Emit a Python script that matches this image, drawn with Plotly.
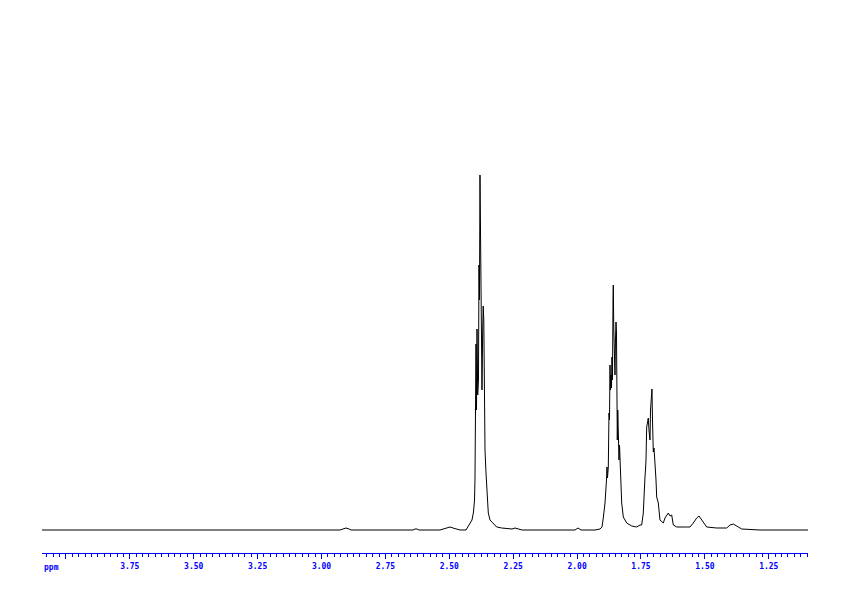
import plotly.graph_objects as go

# Chemical shift (ppm) and intensity (arbitrary units, baseline = 0)
ppm = [
    4.0935, 2.9276, 2.9159, 2.9042, 2.8924, 2.8846,
    2.6420, 2.6342, 2.6264, 2.6186,
    2.5364, 2.5207, 2.5090, 2.4973, 2.4855, 2.4738, 2.4581,
    2.4347, 2.4268, 2.4190, 2.4112, 2.4053, 2.4014, 2.3995, 2.3975,
    2.3955, 2.3936, 2.3916, 2.3889, 2.3858, 2.3838, 2.3819, 2.3799,
    2.3779, 2.3760, 2.3740, 2.3721, 2.3693, 2.3674, 2.3650, 2.3631,
    2.3603, 2.3564, 2.3525, 2.3474, 2.3408, 2.3341, 2.3251, 2.3146,
    2.2950, 2.2704, 2.2547, 2.2430, 2.2312, 2.2156,
    2.0082, 1.9965, 1.9847,
    1.9300, 1.9104, 1.9026, 1.8975, 1.8908, 1.8850, 1.8830, 1.8811,
    1.8779, 1.8752, 1.8732, 1.8713, 1.8693, 1.8674, 1.8654, 1.8635,
    1.8615, 1.8595, 1.8584, 1.8564, 1.8545, 1.8517, 1.8498, 1.8478,
    1.8459, 1.8439, 1.8427, 1.8408, 1.8388, 1.8361, 1.8341, 1.8322,
    1.8294, 1.8255, 1.8192, 1.8059, 1.7864, 1.7668, 1.7539,
    1.7473, 1.7410, 1.7383, 1.7344, 1.7324, 1.7304, 1.7277, 1.7246,
    1.7214, 1.7187, 1.7148, 1.7128, 1.7097, 1.7070, 1.7050, 1.7019,
    1.6991, 1.6952, 1.6913, 1.6886, 1.6854, 1.6823, 1.6757, 1.6628,
    1.6561, 1.6495, 1.6432, 1.6365, 1.6299, 1.6236, 1.6103,
    1.5712, 1.5583, 1.5454, 1.5321, 1.5231, 1.5125, 1.4930,
    1.4538, 1.4147, 1.4018, 1.3889, 1.3693, 1.3560, 1.2844, 1.0966,
]
intensity = [
    0, 0, 1, 2, 1, 0,
    0, 1, 1, 0,
    0, 1, 2, 3, 2, 1, 0,
    0, 3, 6, 10, 18, 30, 50, 100,
    186, 120, 201, 135, 150, 265, 230, 355,
    290, 312, 160, 140, 200, 224, 210, 117,
    80, 57, 35, 17, 10, 8, 5, 3,
    2, 1, 1, 2, 1, 0,
    0, 2, 0,
    0, 1, 3, 12, 27, 50, 63, 52,
    63, 117, 110, 165, 140, 155, 142, 173,
    150, 230, 245, 200, 167, 155, 190, 208,
    198, 153, 90, 120, 93, 70, 85, 72,
    50, 27, 13, 7, 4, 3, 5,
    5, 17, 40, 53, 60, 70, 103, 110,
    112, 100, 90, 120, 140, 141, 110, 78,
    82, 70, 50, 33, 30, 27, 10, 7,
    12, 15, 17, 14, 15, 5, 3,
    3, 3, 7, 12, 14, 10, 3,
    2, 2, 5, 6, 3, 1, 0, 0,
]

major_vals = [4.00, 3.75, 3.50, 3.25, 3.00, 2.75, 2.50, 2.25, 2.00, 1.75, 1.50, 1.25]
major_text = ["", "3.75", "3.50", "3.25", "3.00", "2.75", "2.50", "2.25", "2.00", "1.75", "1.50", "1.25"]

fig = go.Figure()
fig.add_trace(go.Scatter(
    x=ppm, y=intensity, mode="lines",
    line=dict(color="black", width=1), hoverinfo="skip", showlegend=False,
))

axis_font = dict(family="DejaVu Sans Mono", size=8, color="#0000ff", weight="bold")

fig.update_layout(
    width=842, height=596,
    margin=dict(l=34, r=42, t=0, b=51),
    paper_bgcolor="white", plot_bgcolor="white",
    xaxis=dict(
        range=[4.0935, 1.0966],
        showgrid=False, zeroline=False,
        showline=True, linecolor="#0000ff", linewidth=1,
        ticks="outside", ticklen=5, tickwidth=1, tickcolor="#0000ff",
        tickmode="array", tickvals=major_vals, ticktext=major_text,
        tickfont=axis_font,
        minor=dict(ticks="outside", ticklen=3, tickwidth=1, tickcolor="#0000ff",
                   tick0=0, dtick=0.025, showgrid=False),
    ),
    yaxis=dict(range=[-23, 522], visible=False, showgrid=False, zeroline=False),
    annotations=[dict(
        text="ppm", xref="paper", yref="paper", x=0, y=0,
        xanchor="left", yanchor="top", yshift=-8, showarrow=False, font=axis_font,
    )],
)

fig.write_html("out.html")
